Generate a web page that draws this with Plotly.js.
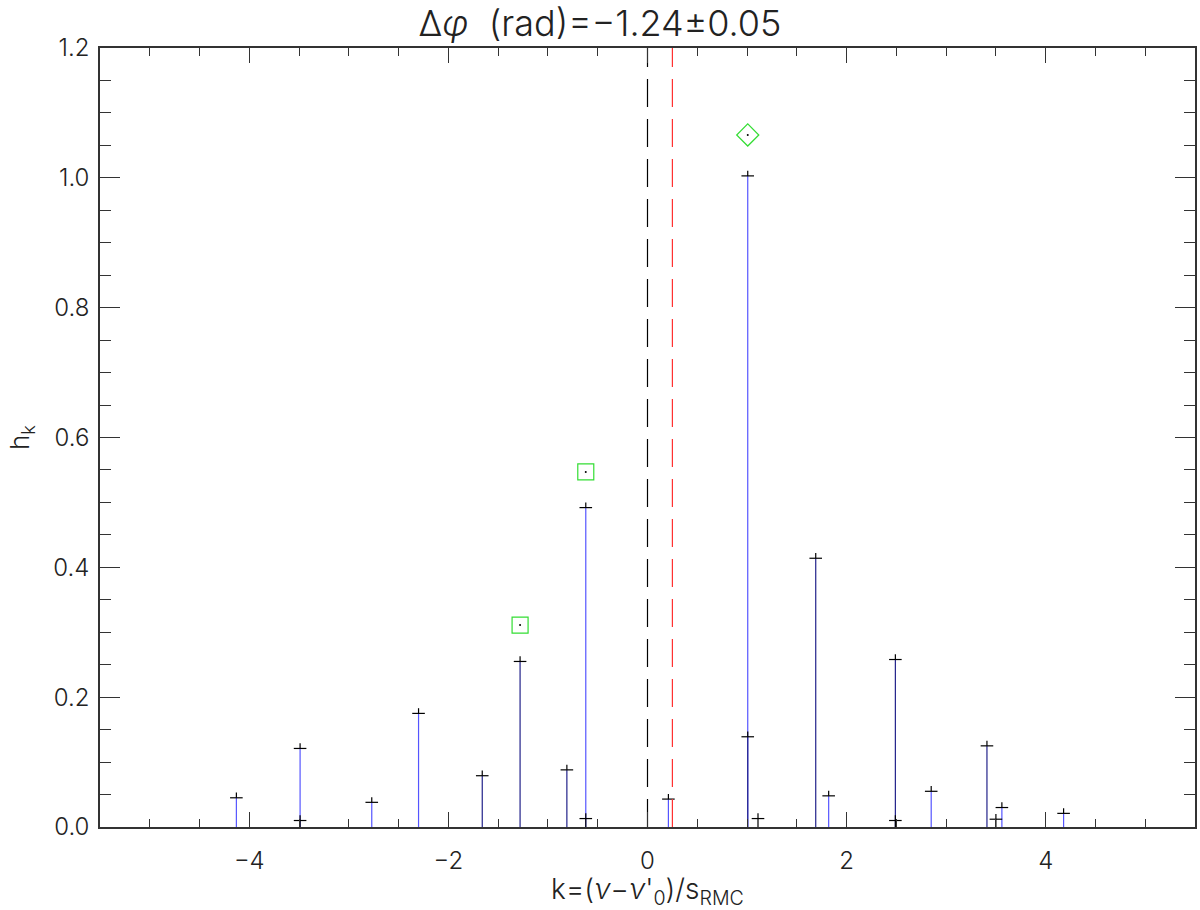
<!DOCTYPE html>
<html>
<head>
<meta charset="utf-8">
<script src="https://cdn.plot.ly/plotly-3.0.1.min.js"></script>
<style>
  html, body { margin: 0; padding: 0; background: #fff; }
  #graph { width: 1200px; height: 910px; }
</style>
</head>
<body>
<div id="graph"></div>
<script>
// stems in light blue (k, h_k)
const blueK = [-4.13, -3.49, -2.77, -2.30, -0.62, 0.21, 1.007, 1.82, 2.85, 3.56, 4.18];
const blueH = [0.045, 0.121, 0.038, 0.175, 0.492, 0.043, 1.003, 0.048, 0.055, 0.030, 0.021];
// darker stems
const darkK = [-1.66, -1.28, -0.81, 1.007, 1.69, 2.49, 3.41];
const darkH = [0.079, 0.255, 0.088, 0.139, 0.414, 0.258, 0.125];
// tiny stems near the baseline
const tinyK = [-3.49, -0.62, 1.11, 2.49, 3.50];
const tinyH = [0.010, 0.013, 0.013, 0.010, 0.012];
// green markers
const squareK = [-1.28, -0.62];
const squareH = [0.311, 0.547];
const diamondK = [1.007];
const diamondH = [1.066];
// vertical reference lines
const zeroK = 0;
const shiftK = 0.25;

const errH = 0.008;

// build stem segments from arrays
function stems(ks, hs) {
    const x = [], y = [];
    ks.forEach((k, i) => {
        x.push(k, k, null);
        y.push(0, hs[i], null);
    });
    return { x: x, y: y };
}

function stemTrace(ks, hs, color) {
    const s = stems(ks, hs);
    return {
        x: s.x, y: s.y, type: 'scatter', mode: 'lines',
        line: { color: color, width: 1.2 },
        hoverinfo: 'skip', showlegend: false
    };
}

// little "+" caps: horizontal tick plus short upward error
function capTrace(ks, hs) {
    return {
        x: ks, y: hs, type: 'scatter', mode: 'markers',
        marker: { symbol: 'line-ew', size: 9, color: '#000', line: { color: '#000', width: 1.2 } },
        error_y: {
            type: 'data', symmetric: false,
            array: hs.map(() => errH), arrayminus: hs.map(() => 0),
            color: '#000', thickness: 1.2, width: 0
        },
        showlegend: false
    };
}

const thin = 'Inter, DejaVu Sans, sans-serif';

const data = [
    stemTrace(blueK, blueH, '#5555ff'),
    stemTrace(darkK, darkH, '#22228a'),
    stemTrace(tinyK, tinyH, '#000'),
    capTrace(blueK, blueH),
    capTrace(darkK, darkH),
    capTrace(tinyK, tinyH),
    {
        x: [zeroK, zeroK], y: [0, 1.2], type: 'scatter', mode: 'lines',
        line: { color: '#000', width: 1.2, dash: '28px,12px' }, showlegend: false
    },
    {
        x: [shiftK, shiftK], y: [0, 1.2], type: 'scatter', mode: 'lines',
        line: { color: '#ff3030', width: 1.2, dash: '28px,12px' }, showlegend: false
    },
    {
        x: squareK, y: squareH, type: 'scatter', mode: 'markers',
        marker: { symbol: 'square-open', size: 16, color: '#33dd33', line: { width: 1.2 } },
        showlegend: false
    },
    {
        x: diamondK, y: diamondH, type: 'scatter', mode: 'markers',
        marker: { symbol: 'diamond-open', size: 17, color: '#33dd33', line: { width: 1.2 } },
        showlegend: false
    },
    {
        x: squareK.concat(diamondK), y: squareH.concat(diamondH), type: 'scatter', mode: 'markers',
        marker: { size: 2, color: '#000' }, showlegend: false
    }
];

const tickFont = { family: thin, size: 24, color: '#222', weight: 300 };

const layout = {
    width: 1200, height: 910,
    margin: { l: 100, r: 5, t: 48, b: 83 },
    paper_bgcolor: '#fff', plot_bgcolor: '#fff',
    font: { family: thin, color: '#222', weight: 300 },
    title: {
        text: 'Δ<i>φ</i>  (rad)=−1.24±0.05',
        font: { family: thin, size: 36, color: '#222', weight: 300 },
        x: 0.5, xanchor: 'center', y: 0.974, yanchor: 'middle'
    },
    xaxis: {
        range: [-5.5, 5.5], tick0: 0, dtick: 2,
        ticks: 'inside', ticklen: 15, tickcolor: '#333', tickwidth: 1,
        minor: { dtick: 0.5, ticks: 'inside', ticklen: 8, tickcolor: '#333' },
        showline: true, linecolor: '#333', linewidth: 1.5, mirror: 'allticks',
        showgrid: false, zeroline: false,
        tickfont: tickFont, ticklabelstandoff: 11,
        title: {
            text: 'k=(<i>ν</i>−<i>ν</i>\'<sub>0</sub>)/s<sub>RMC</sub>',
            font: { family: thin, size: 28, color: '#222', weight: 300 }, standoff: 10
        }
    },
    yaxis: {
        range: [0, 1.2], tick0: 0, dtick: 0.2, tickformat: '.1f',
        ticks: 'inside', ticklen: 20, tickcolor: '#333', tickwidth: 1,
        minor: { dtick: 0.05, ticks: 'inside', ticklen: 11, tickcolor: '#333' },
        showline: true, linecolor: '#333', linewidth: 1.5, mirror: 'allticks',
        showgrid: false, zeroline: false,
        tickfont: tickFont, ticklabelstandoff: 4,
        title: { text: 'h<sub>k</sub>', font: { family: thin, size: 26, color: '#222', weight: 300 }, standoff: 16 }
    }
};

Plotly.newPlot('graph', data, layout, { displayModeBar: false });
</script>
</body>
</html>
